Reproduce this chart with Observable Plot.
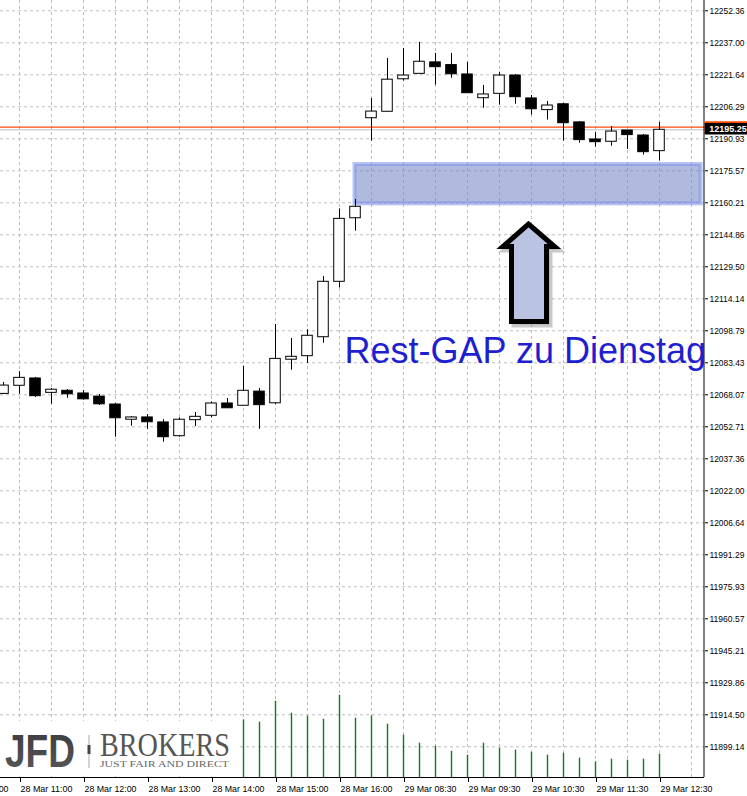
<!DOCTYPE html>
<html><head><meta charset="utf-8">
<script src="https://cdn.jsdelivr.net/npm/d3@7"></script>
<script src="https://cdn.jsdelivr.net/npm/@observablehq/plot@0.6"></script>
<style>
body{margin:0;background:#fff;}
#wrap{position:relative;width:747px;height:796px;overflow:hidden;}
#logo{position:absolute;left:0;top:0;pointer-events:none;}
</style></head><body><div id="wrap"></div>
<script>
// 15-minute candles, index 0 = 28 Mar 10:45
const opens  = [12068.5,12072.4,12075.9,12069.0,12070.0,12068.7,12067.2,12063.4,12056.1,12057.2,12054.8,12048.2,12055.9,12058.0,12063.9,12062.8,12069.6,12064.0,12084.9,12086.6,12095.7,12122.3,12152.8,12200.8,12203.9,12219.5,12222.1,12227.6,12226.3,12221.8,12210.4,12212.5,12221.3,12210.3,12204.7,12207.5,12198.8,12190.6,12189.5,12194.9,12192.5,12185.0];
const highs  = [12074.0,12079.2,12076.4,12071.1,12070.6,12070.1,12068.2,12063.9,12057.6,12058.6,12056.1,12057.0,12059.6,12064.7,12066.3,12081.8,12071.1,12101.8,12095.1,12099.3,12124.8,12157.3,12161.8,12210.3,12229.5,12234.3,12237.2,12231.9,12231.9,12227.6,12216.5,12222.9,12221.8,12211.7,12208.8,12208.0,12199.2,12194.1,12196.8,12194.9,12193.0,12198.8];
const lows   = [12068.2,12068.3,12066.8,12063.5,12066.4,12065.5,12062.9,12047.7,12053.0,12051.5,12045.3,12047.7,12052.8,12057.0,12061.6,12062.8,12051.5,12063.4,12079.9,12083.1,12092.8,12119.3,12146.6,12189.8,12203.9,12218.6,12222.1,12216.7,12220.0,12212.8,12205.6,12207.1,12207.5,12202.3,12199.9,12189.8,12188.8,12186.9,12187.4,12185.8,12183.1,12180.2];
const closes = [12072.5,12076.2,12067.4,12070.5,12068.3,12065.9,12063.5,12056.8,12057.2,12054.9,12047.7,12056.1,12057.5,12063.9,12061.6,12070.0,12063.1,12085.3,12086.3,12096.4,12122.3,12152.5,12158.3,12204.0,12219.3,12221.3,12227.9,12225.3,12221.9,12212.8,12212.2,12221.3,12210.9,12205.1,12206.9,12198.4,12190.3,12189.3,12194.4,12192.7,12184.5,12195.25];
// tick volume (bars 0..14 are hidden behind the logo)
const volumeIndex = [15,16,17,18,19,20,21,22,23,24,25,26,27,28,29,30,31,32,33,34,35,36,37,38,39,40,41];
const volumes     = [577,553,763,643,613,583,823,593,615,533,423,343,313,263,223,343,293,273,253,223,243,193,157,183,173,183,233];

const priceTickLabels = ["12252.36","12237.00","12221.64","12206.29","12190.93","12175.57","12160.21","12144.86","12129.50","12114.14","12098.79","12083.43","12068.07","12052.71","12037.36","12022.00","12006.64","11991.29","11975.93","11960.57","11945.21","11929.86","11914.50","11899.14"];
const timeTickIndex  = [-3,1,5,9,13,17,21,25,29,33,37,41];
const timeTickLabels = ["28 Mar 10:00","28 Mar 11:00","28 Mar 12:00","28 Mar 13:00","28 Mar 14:00","28 Mar 15:00","28 Mar 16:00","29 Mar 08:30","29 Mar 09:30","29 Mar 10:30","29 Mar 11:30","29 Mar 12:30"];

const bidPrice = 12195.25;
const askPrice = 12196.5;
const gapZone = [{i1: 21.97, i2: 43.6, lo: 12159.7, hi: 12178.6}];
const gapLabel = [{i: 21.3125, v: 12089.07, t: "Rest-GAP zu Dienstag"}];
const arrowShape = [
  {i: 32.84, v: 12103.23},{i: 33.9375, v: 12103.23},{i: 33.9375, v: 12139.23},{i: 34.4375, v: 12139.23},
  {i: 32.8125, v: 12150.03},{i: 31.21875, v: 12139.23},{i: 31.75, v: 12139.23},{i: 31.75, v: 12103.23},{i: 32.84, v: 12103.23}
];

const xDomain = [-0.1875, 43.8125];
const yDomain = [11884.4, 12257.3];
const plotH = 777;
const pricePerPx = (yDomain[1] - yDomain[0]) / plotH;
const volPerPx = 10;

const candles = opens.map((o, i) => ({i, o, h: highs[i], l: lows[i], c: closes[i]}));
const vols = volumeIndex.map((i, k) => ({i, v: volumes[k]}));
const priceTicks = priceTickLabels.map(Number);
const priceMap = new Map(priceTicks.map((v, k) => [v, priceTickLabels[k]]));
const timeMap = new Map(timeTickIndex.map((v, k) => [v, timeTickLabels[k]]));
const gridX = d3.range(1, 44, 2);
const font = "Liberation Sans, Arial, sans-serif";

const chart = Plot.plot({
  width: 747, height: 796,
  marginLeft: 0, marginRight: 43, marginTop: 0, marginBottom: 19,
  x: {domain: xDomain, axis: null},
  y: {domain: yDomain, axis: null},
  style: {fontFamily: font, fontSize: "9px", background: "white", color: "black"},
  marks: [
    Plot.ruleY(priceTicks, {stroke: "#bdbdbd", strokeDasharray: "3,3"}),
    Plot.ruleX(gridX, {stroke: "#bdbdbd", strokeDasharray: "3,3"}),
    Plot.rect(gapZone, {x1: "i1", x2: "i2", y1: "lo", y2: "hi", fill: "rgb(112,130,195)", fillOpacity: 0.55, stroke: "rgb(125,145,235)", strokeOpacity: 0.55, strokeWidth: 4}),
    Plot.ruleX(vols, {x: "i", y1: yDomain[0], y2: d => yDomain[0] + d.v / volPerPx * pricePerPx, stroke: "#137a13", strokeWidth: 1.4}),
    Plot.ruleY([bidPrice], {stroke: "#c0c0c0"}),
    Plot.ruleY([askPrice], {stroke: "#ff4a0a", strokeWidth: 1.2}),
    Plot.ruleX(candles, {x: "i", y1: "l", y2: "h", stroke: "black"}),
    Plot.rect(candles.filter(d => d.c >= d.o), {x1: d => d.i - 0.33, x2: d => d.i + 0.33, y1: "o", y2: "c", fill: "white", stroke: "black"}),
    Plot.rect(candles.filter(d => d.c < d.o), {x1: d => d.i - 0.33, x2: d => d.i + 0.33, y1: "c", y2: "o", fill: "black", stroke: "black"}),
    Plot.line(arrowShape, {x: "i", y: "v", fill: "#888", fillOpacity: 0.45, stroke: "#888", strokeOpacity: 0.45, strokeWidth: 6, dx: 3, dy: 3, strokeLinejoin: "miter", strokeMiterlimit: 10, strokeLinecap: "square"}),
    Plot.line(arrowShape, {x: "i", y: "v", fill: "#bac4e2", stroke: "black", strokeWidth: 5, strokeLinejoin: "miter", strokeMiterlimit: 10, strokeLinecap: "square"}),
    Plot.text(gapLabel, {x: "i", y: "v", text: "t", textAnchor: "start", fontSize: 36, fill: "#1f1fd0", fontFamily: font}),
    Plot.axisY(priceTicks, {anchor: "right", tickSize: 3, tickPadding: 2, tickFormat: d => priceMap.get(d), fontSize: 9, fill: "black"}),
    Plot.axisX(timeTickIndex, {anchor: "bottom", tickSize: 5, tickPadding: 3, tickFormat: d => timeMap.get(d), textAnchor: "start", dx: 1, fontSize: 9.5, fill: "black"}),
    Plot.ruleX([xDomain[1]], {stroke: "black", dx: -0.5}),
    Plot.ruleY([yDomain[0]], {stroke: "black"}),
    Plot.ruleY([askPrice], {x1: xDomain[1] + 0.04, x2: 47, stroke: "#ff4a0a", strokeWidth: 12}),
    Plot.ruleY([bidPrice], {x1: xDomain[1] + 0.04, x2: 47, stroke: "black", strokeWidth: 11.5, dy: -1}),
    Plot.text([bidPrice], {x: xDomain[1] + 0.3, y: d => d, text: d => d.toFixed(2), textAnchor: "start", fill: "white", fontWeight: "bold", fontSize: 9, dy: -1})
  ]
});

chart.querySelectorAll('g[aria-label="x-axis tick label"] text').forEach(t => {
  t.setAttribute("textLength", 52); t.setAttribute("lengthAdjust", "spacingAndGlyphs");
});
chart.querySelectorAll('g[aria-label="y-axis tick label"] text').forEach(t => {
  t.setAttribute("textLength", 35); t.setAttribute("lengthAdjust", "spacingAndGlyphs");
});

const wrap = document.getElementById("wrap");
wrap.appendChild(chart);
wrap.insertAdjacentHTML("beforeend", `
<svg id="logo" width="747" height="796">
  <defs><linearGradient id="jfdg" x1="0" y1="0" x2="0" y2="1">
    <stop offset="0" stop-color="#3a3a3c"/><stop offset="1" stop-color="#5a5a5c"/></linearGradient></defs>
  <rect x="0" y="721" width="237" height="55" fill="white"/>
  <text x="5" y="767" font-family="Liberation Sans, Arial" font-weight="bold" font-size="46" fill="url(#jfdg)" textLength="70" lengthAdjust="spacingAndGlyphs">JFD</text>
  <line x1="89" y1="735" x2="89" y2="768" stroke="#aaa" stroke-width="1"/>
  <rect x="87.5" y="745" width="3" height="9" fill="#444"/>
  <text x="100" y="756" font-family="Liberation Serif, Times New Roman, serif" font-size="33" fill="#555" textLength="130" lengthAdjust="spacingAndGlyphs">BROKERS</text>
  <text x="100" y="766.5" font-family="Liberation Serif, Times New Roman, serif" font-size="9" fill="#666" textLength="129" lengthAdjust="spacingAndGlyphs">JUST FAIR AND DIRECT</text>
</svg>`);
</script>
</body></html>
